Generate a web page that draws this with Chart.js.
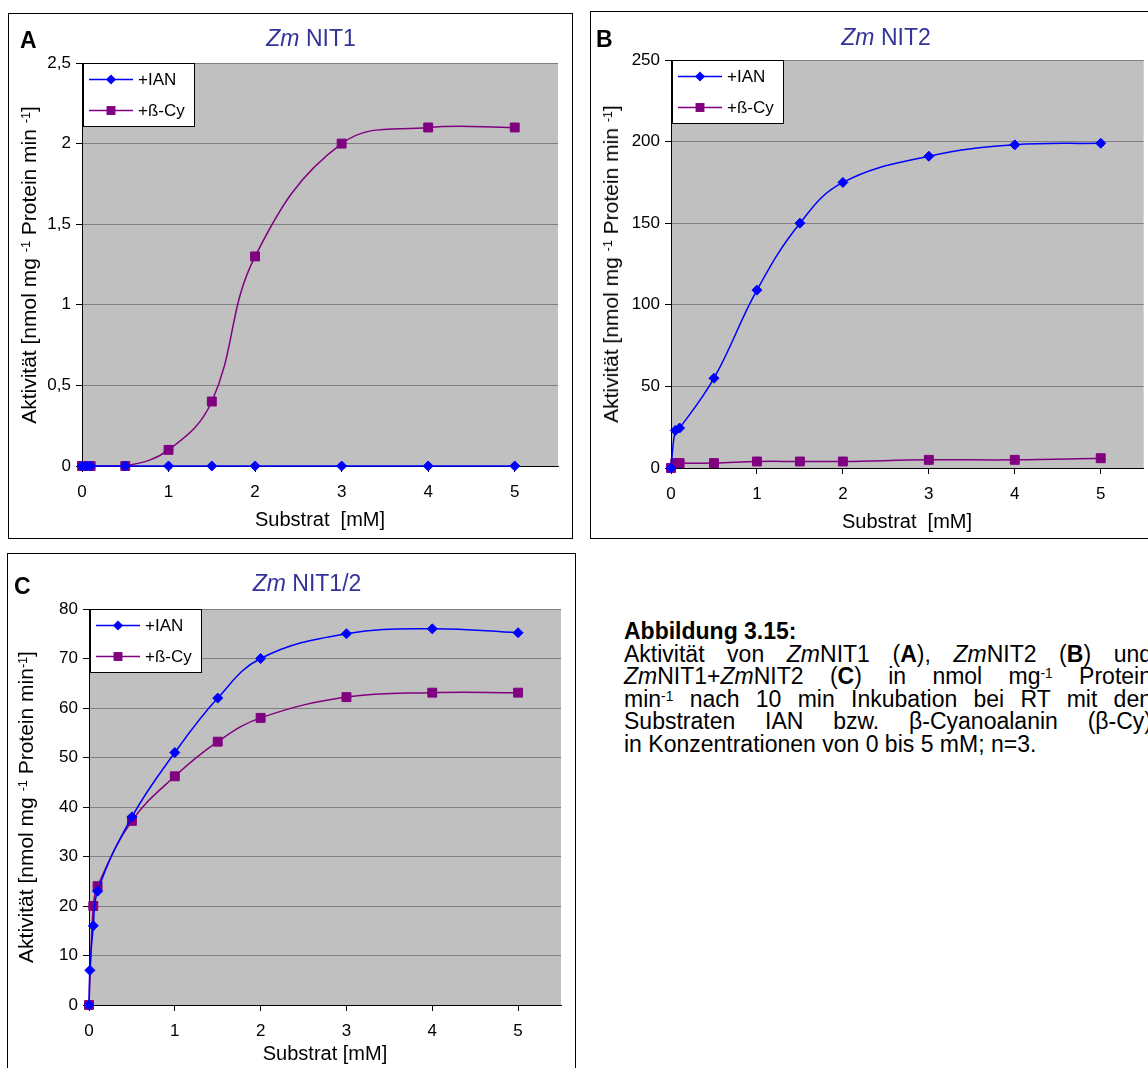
<!DOCTYPE html>
<html>
<head>
<meta charset="utf-8">
<script src="https://cdn.jsdelivr.net/npm/chart.js@4.4.2/dist/chart.umd.min.js"></script>
<style>
  html, body { margin: 0; padding: 0; background: #fff; }
  body {
    position: relative; width: 1148px; height: 1068px; overflow: hidden;
    font-family: "Liberation Sans", Arial, sans-serif; color: #000;
  }
  .box    { position: absolute; border: 1px solid #000; box-sizing: border-box; }
  .abs    { position: absolute; white-space: nowrap; }
  .center { transform: translate(-50%, -50%); }
  .letter { font-weight: bold; font-size: 23px; line-height: 1; }
  .title  { font-size: 23px; color: #333399; }
  .xtitle { font-size: 20px; }
  .ytitle { font-size: 21px; transform: translate(-50%, -50%) rotate(-90deg); }
  sup     { font-size: 60%; position: relative; top: -0.45em; vertical-align: baseline; line-height: 0; }
  canvas  { position: absolute; }

  #caption { position: absolute; left: 624px; top: 620px; width: 528px; font-size: 23px; line-height: 22.6px; }
  #caption .j { text-align: justify; text-align-last: justify; white-space: nowrap; }
</style>
</head>
<body>

<!-- panel frames -->
<div class="box" style="left:8px;top:13px;width:565px;height:526px"></div>
<div class="box" style="left:590px;top:11px;width:600px;height:528px"></div>
<div class="box" style="left:7px;top:553px;width:569px;height:600px"></div>

<canvas id="chartA" width="563" height="524" style="left:9px;top:14px"></canvas>
<canvas id="chartB" width="560" height="526" style="left:591px;top:12px"></canvas>
<canvas id="chartC" width="567" height="514" style="left:8px;top:554px"></canvas>

<!-- panel letters and titles -->
<div class="abs letter" style="left:20px;top:29px">A</div>
<div class="abs letter" style="left:596px;top:28px">B</div>
<div class="abs letter" style="left:14px;top:575px">C</div>

<div class="abs center title" style="left:311px;top:38px"><i>Zm</i> NIT1</div>
<div class="abs center title" style="left:886px;top:37px"><i>Zm</i> NIT2</div>
<div class="abs center title" style="left:307px;top:583px"><i>Zm</i> NIT1/2</div>

<!-- axis titles -->
<div class="abs ytitle" style="left:29px;top:265px">Aktivität [nmol mg <sup>-1</sup> Protein min <sup>-1</sup>]</div>
<div class="abs ytitle" style="left:611px;top:264px">Aktivität [nmol mg <sup>-1</sup> Protein min <sup>-1</sup>]</div>
<div class="abs ytitle" style="left:26px;top:807px">Aktivität [nmol mg <sup>-1</sup> Protein min<sup>-1</sup>]</div>

<div class="abs center xtitle" style="left:320px;top:519px">Substrat&nbsp;&nbsp;[mM]</div>
<div class="abs center xtitle" style="left:907px;top:521px">Substrat&nbsp;&nbsp;[mM]</div>
<div class="abs center xtitle" style="left:325px;top:1053px">Substrat [mM]</div>

<!-- figure caption -->
<div id="caption">
  <div><b>Abbildung 3.15:</b></div>
  <div class="j">Aktivität von <i>Zm</i>NIT1 (<b>A</b>), <i>Zm</i>NIT2 (<b>B</b>) und</div>
  <div class="j"><i>Zm</i>NIT1+<i>Zm</i>NIT2 (<b>C</b>) in nmol mg<sup>-1</sup> Protein</div>
  <div class="j">min<sup>-1</sup> nach 10 min Inkubation bei RT mit den</div>
  <div class="j">Substraten IAN bzw. β-Cyanoalanin (β-Cy)</div>
  <div>in Konzentrationen von 0 bis 5 mM; n=3.</div>
</div>

<script>
// ---------- DATA ----------
const seriesNames = ["+IAN", "+ß-Cy"];
const xTicks = [0, 1, 2, 3, 4, 5];

// A: Zm NIT1
const nit1X      = [0, 0.05, 0.1, 0.5, 1, 1.5, 2, 3, 4, 5];
const nit1IAN    = [0, 0, 0, 0, 0, 0, 0, 0, 0, 0];
const nit1BCy    = [0, 0, 0, 0, 0.1, 0.4, 1.3, 2.0, 2.1, 2.1];
const nit1YTicks = [0, 0.5, 1, 1.5, 2, 2.5];

// B: Zm NIT2
const nit2X      = [0, 0.05, 0.1, 0.5, 1, 1.5, 2, 3, 4, 5];
const nit2IAN    = [0, 23, 24.5, 55, 109, 150, 175, 191, 198, 199];
const nit2BCy    = [0, 3, 3, 3, 4, 4, 4, 5, 5, 6];
const nit2YTicks = [0, 50, 100, 150, 200, 250];

// C: Zm NIT1/2
const nit12IanX   = [0, 0.01, 0.05, 0.1, 0.5, 1, 1.5, 2, 3, 4, 5];
const nit12IAN    = [0, 7, 16, 23, 38, 51, 62, 70, 75, 76, 75.2];
const nit12BCyX   = [0, 0.05, 0.1, 0.5, 1, 1.5, 2, 3, 4, 5];
const nit12BCy    = [0, 20, 24, 37.2, 46.2, 53.2, 58, 62.2, 63.1, 63.1];
const nit12YTicks = [0, 10, 20, 30, 40, 50, 60, 70, 80];

// ---------- STYLE ----------
const FONT   = "'Liberation Sans', Arial, sans-serif";
const BLUE   = "#0000FF";
const PURPLE = "#800080";

const pts = (xs, ys) => xs.map((x, i) => ({ x, y: ys[i] }));

function series(label, data, color, style, radius) {
  return {
    label, data,
    borderColor: color, backgroundColor: color,
    borderWidth: 1.5, tension: 0.4,
    pointStyle: style, pointRadius: radius, pointBorderWidth: 1,
    clip: false
  };
}

// grey plot background
const plotBg = {
  id: "plotBg",
  beforeDraw(chart) {
    const { ctx, chartArea: a } = chart;
    ctx.save();
    ctx.fillStyle = "#C0C0C0";
    ctx.fillRect(a.left, a.top, a.right - a.left, a.bottom - a.top);
    ctx.restore();
  }
};

// Excel style legend box: line with marker, top-left in the plot
const legendBox = {
  id: "legendBox",
  afterDatasetsDraw(chart) {
    const { ctx, chartArea: a } = chart;
    const x = a.left + 1, y = a.top, w = 112, h = 64;
    ctx.save();
    ctx.fillStyle = "#fff";
    ctx.fillRect(x, y, w, h);
    ctx.strokeStyle = "#000";
    ctx.lineWidth = 1;
    ctx.strokeRect(x + 0.5, y + 0.5, w - 1, h - 1);
    chart.data.datasets.forEach((ds, i) => {
      const cy = y + 16.5 + i * 31;
      ctx.strokeStyle = ds.borderColor;
      ctx.fillStyle = ds.borderColor;
      ctx.lineWidth = 1.5;
      ctx.beginPath(); ctx.moveTo(x + 6, cy); ctx.lineTo(x + 50, cy); ctx.stroke();
      const mx = x + 28;
      if (ds.pointStyle === "rect") {
        const s = ds.pointRadius * Math.SQRT1_2;
        ctx.fillRect(mx - s, cy - s, 2 * s, 2 * s);
      } else {
        const r = ds.pointRadius;
        ctx.beginPath();
        ctx.moveTo(mx - r, cy); ctx.lineTo(mx, cy - r); ctx.lineTo(mx + r, cy); ctx.lineTo(mx, cy + r);
        ctx.closePath(); ctx.fill();
      }
      ctx.fillStyle = "#000";
      ctx.font = "17px " + FONT;
      ctx.textBaseline = "middle";
      ctx.fillText(ds.label, x + 55, cy + 1);
    });
    ctx.restore();
  }
};

// ---------- CHART BUILDER ----------
// canvasPos: page position of the canvas, plot: page position of the plot area
function makeChart(id, canvasPos, plot, datasets, yTicks) {
  const cv = document.getElementById(id);
  const W = cv.width, H = cv.height;
  const yWidth  = plot.l - canvasPos.l;
  const xHeight = 40;
  const fmt = v => String(v).replace(".", ",");

  return new Chart(cv, {
    type: "line",
    data: { datasets },
    plugins: [plotBg, legendBox],
    options: {
      responsive: false,
      animation: false,
      events: [],
      layout: {
        padding: {
          left: 0,
          top: plot.t - canvasPos.t,
          right: W - (plot.r - canvasPos.l),
          bottom: H - xHeight - (plot.b - canvasPos.t)
        }
      },
      plugins: { legend: { display: false }, tooltip: { enabled: false } },
      scales: {
        x: {
          type: "linear", min: 0, max: 5.5,
          afterBuildTicks: s => { s.ticks = xTicks.map(v => ({ value: v })); },
          afterFit: s => { s.height = xHeight; },
          grid: { drawOnChartArea: false, drawTicks: true, tickLength: 6, tickColor: "#000" },
          border: { color: "#000", width: 1 },
          ticks: { color: "#000", font: { family: FONT, size: 17 }, padding: 10, maxRotation: 0 }
        },
        y: {
          type: "linear", min: yTicks[0], max: yTicks[yTicks.length - 1],
          afterBuildTicks: s => { s.ticks = yTicks.map(v => ({ value: v })); },
          afterFit: s => { s.width = yWidth; },
          grid: {
            color: c => (c.tick && c.tick.value === 0) ? "rgba(0,0,0,0)" : "#808080",
            lineWidth: 1, drawTicks: true, tickLength: 6, tickColor: "#000"
          },
          border: { color: "#000", width: 1 },
          ticks: { color: "#000", font: { family: FONT, size: 17 }, padding: 5, callback: fmt }
        }
      }
    }
  });
}

makeChart("chartA", { l: 9, t: 14 }, { l: 82, t: 63, r: 558, b: 466 }, [
  series(seriesNames[0], pts(nit1X, nit1IAN), BLUE, "rectRot", 5),
  series(seriesNames[1], pts(nit1X, nit1BCy), PURPLE, "rect", 6.3)
], nit1YTicks);

makeChart("chartB", { l: 591, t: 12 }, { l: 671, t: 60, r: 1144, b: 468 }, [
  series(seriesNames[0], pts(nit2X, nit2IAN), BLUE, "rectRot", 5),
  series(seriesNames[1], pts(nit2X, nit2BCy), PURPLE, "rect", 6.3)
], nit2YTicks);

makeChart("chartC", { l: 8, t: 554 }, { l: 89, t: 609, r: 561, b: 1005 }, [
  series(seriesNames[0], pts(nit12IanX, nit12IAN), BLUE, "rectRot", 5),
  series(seriesNames[1], pts(nit12BCyX, nit12BCy), PURPLE, "rect", 6.3)
], nit12YTicks);
</script>
</body>
</html>
